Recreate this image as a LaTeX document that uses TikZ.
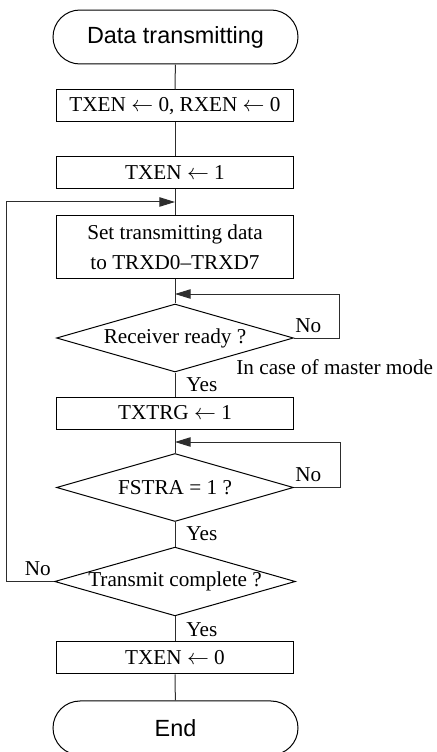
\documentclass[tikz,border=0pt]{standalone}
\usepackage{fontspec}
\setmainfont{Liberation Serif}
\setsansfont{Liberation Sans}
\usetikzlibrary{calc,positioning,arrows.meta,shapes.geometric,shapes.misc}
\definecolor{CLN}{RGB}{45,45,45}

\begin{document}
\begin{tikzpicture}[font=\fontsize{10.6}{15}\selectfont,
  term/.style={draw,rounded rectangle,line width=0.5pt,minimum width=4.3054cm,minimum height=0.9489cm,inner sep=0pt,font=\sffamily\fontsize{11.7}{14}\selectfont},
  proc/.style={draw,rectangle,line width=0.5pt,minimum width=4.1648cm,minimum height=0.5623cm,inner sep=0pt,align=center},
  dec/.style={draw,diamond,aspect=3.5,line width=0.5pt,minimum width=4.1648cm,minimum height=1.1950cm,inner sep=0pt},
  flow/.style={CLN,line width=0.5pt},
  back/.style={CLN,line width=0.5pt,-{Triangle[length=7.8pt,width=4.7pt]}},
  lbl/.style={inner sep=0pt}]
  \useasboundingbox (0.0000cm,0.0000cm) rectangle (7.6619cm,13.2150cm);
  % main column
  \node[term] (start) at (3.0841cm,12.5647cm) {Data transmitting};
  \node[proc] (clr) at (3.0753cm,11.3522cm) {TXEN $\leftarrow$ 0, RXEN $\leftarrow$ 0};
  \node[proc] (txen) at (3.0753cm,10.1748cm) {TXEN $\leftarrow$ 1};
  \node[proc,minimum height=1.1071cm] (setd) at (3.0753cm,8.8656cm) {Set transmitting data\\to TRXD0--TRXD7};
  \node[dec] (rdy) at (3.0753cm,7.2752cm) {Receiver ready ?};
  \node[proc] (trg) at (3.0753cm,5.9572cm) {TXTRG $\leftarrow$ 1};
  \node[dec] (fstra) at (3.0753cm,4.6481cm) {FSTRA = 1 ?};
  \node[dec] (cmpl) at (3.0753cm,2.9962cm) {Transmit complete ?};
  \node[proc] (txoff) at (3.0753cm,1.6519cm) {TXEN $\leftarrow$ 0};
  \node[term] (stop) at (3.0841cm,0.4218cm) {End};
  % junctions on the column
  \coordinate (j1) at (3.0753cm,9.6652cm);
  \coordinate (j2) at (3.0753cm,8.0484cm);
  \coordinate (j3) at (3.0753cm,5.4476cm);
  % connectors
  \draw[flow] (start) -- (clr);
  \draw[flow] (clr) -- (txen);
  \draw[flow] (txen) -- (setd);
  \draw[flow] (setd) -- (rdy);
  \draw[flow] (rdy) -- (trg);
  \draw[flow] (trg) -- (fstra);
  \draw[flow] (fstra) -- (cmpl);
  \draw[flow] (cmpl) -- (txoff);
  \draw[flow] (txoff) -- (stop);
  \draw[back] (rdy.east) -- ++(0.7908cm,0) |- (j2);
  \draw[back] (fstra.east) -- ++(0.8084cm,0) |- (j3);
  \draw[back] (cmpl.west) -- ++(-0.8436cm,0) |- (j1);
  % labels
  \node[lbl,anchor=base west] (rdyno) at ($(rdy.east)+(0.5pt,3pt)$) {No};
  \node[lbl,anchor=base west] (master) at ($(rdy.east)+(-29pt,-18pt)$) {In case of master mode};
  \node[lbl,anchor=base west] (rdyyes) at ($(rdy.south)+(5.5pt,-9.5pt)$) {Yes};
  \node[lbl,anchor=base west] (fstrano) at ($(fstra.east)+(0.5pt,3pt)$) {No};
  \node[lbl,anchor=base west] (fstrayes) at ($(fstra.south)+(5.5pt,-9.5pt)$) {Yes};
  \node[lbl,anchor=base east] (cmplno) at ($(cmpl.west)+(-1.5pt,3pt)$) {No};
  \node[lbl,anchor=base west] (cmplyes) at ($(cmpl.south)+(5.5pt,-10pt)$) {Yes};
\end{tikzpicture}
\end{document}
